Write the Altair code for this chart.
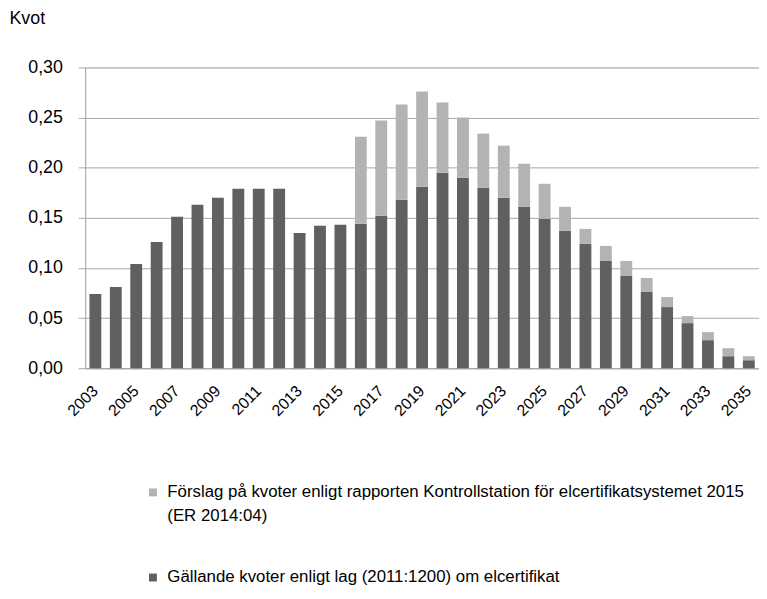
import altair as alt
import pandas as pd

years = list(range(2003, 2036))
gallande = [0.074, 0.081, 0.104, 0.126, 0.151, 0.163, 0.170, 0.179, 0.179, 0.179,
            0.135, 0.142, 0.143, 0.144, 0.152, 0.168, 0.181, 0.195, 0.190, 0.180,
            0.170, 0.161, 0.149, 0.137, 0.124, 0.107, 0.092, 0.076, 0.061, 0.045,
            0.028, 0.012, 0.008]
forslag_years = list(range(2016, 2036))
forslag = [0.231, 0.247, 0.263, 0.276, 0.265, 0.250, 0.234, 0.222, 0.204, 0.184,
           0.161, 0.139, 0.122, 0.107, 0.090, 0.071, 0.052, 0.036, 0.020, 0.012]

s_forslag = "Förslag på kvoter enligt rapporten Kontrollstation för elcertifikatsystemet 2015 (ER 2014:04)"
s_gallande = "Gällande kvoter enligt lag (2011:1200) om elcertifikat"

rows = []
for y, g in zip(years, gallande):
    rows.append({"year": y, "serie": s_gallande, "y0": 0.0, "y1": g})
g_map = dict(zip(years, gallande))
for y, f in zip(forslag_years, forslag):
    rows.append({"year": y, "serie": s_forslag, "y0": g_map[y], "y1": f})
df = pd.DataFrame(rows)

FONT = "Liberation Sans"

chart = alt.Chart(df).mark_bar().encode(
    x=alt.X("year:O", title=None,
            scale=alt.Scale(paddingInner=0.42, paddingOuter=0.21),
            axis=alt.Axis(values=[y for y in years if y % 2 == 1], labelAngle=-45,
                          labelAlign="right", labelBaseline="middle",
                          ticks=False, labelFontSize=16, labelColor="#000000",
                          labelFont=FONT, labelPadding=20,
                          domainColor="#a6a6a6", grid=False)),
    y=alt.Y("y0:Q", title="Kvot",
            scale=alt.Scale(domain=[0, 0.30], nice=False),
            axis=alt.Axis(values=[0, 0.05, 0.10, 0.15, 0.20, 0.25, 0.30],
                          labelExpr="replace(format(datum.value, '.2f'), '.', ',')",
                          labelFontSize=18, labelColor="#000000", labelFont=FONT,
                          tickSize=7, tickColor="#a6a6a6", labelPadding=16,
                          domainColor="#a6a6a6", gridColor="#a6a6a6",
                          titleAngle=0, titleX=-77, titleY=-40, titleAlign="left",
                          titleFontSize=18, titleFontWeight="normal", titleFont=FONT,
                          titleColor="#000000")),
    y2="y1:Q",
    color=alt.Color("serie:N",
                    scale=alt.Scale(domain=[s_forslag, s_gallande],
                                    range=["#b3b3b3", "#606060"]),
                    legend=alt.Legend(title=None, orient="none", legendX=60, legendY=421,
                                      symbolType="square", symbolSize=64,
                                      symbolStrokeWidth=0, labelFontSize=17,
                                      labelFont=FONT, labelColor="#000000",
                                      labelLimit=700, rowPadding=44, labelOffset=6,
                                      labelExpr="datum.label == '" + s_forslag + "' ? ['Förslag på kvoter enligt rapporten Kontrollstation för elcertifikatsystemet 2015', '(ER 2014:04)'] : datum.label")),
    order=alt.Order("serie:N", sort="descending"),
).properties(
    width=681, height=304,
    autosize=alt.AutoSizeParams(type="none"),
    padding={"left": 78, "top": 57, "right": 0, "bottom": 218},
).configure_view(stroke=None).configure(style={"guide-label": {"lineHeight": 24}})

chart.save("out.html", embed_options={"renderer": "svg", "actions": False})
